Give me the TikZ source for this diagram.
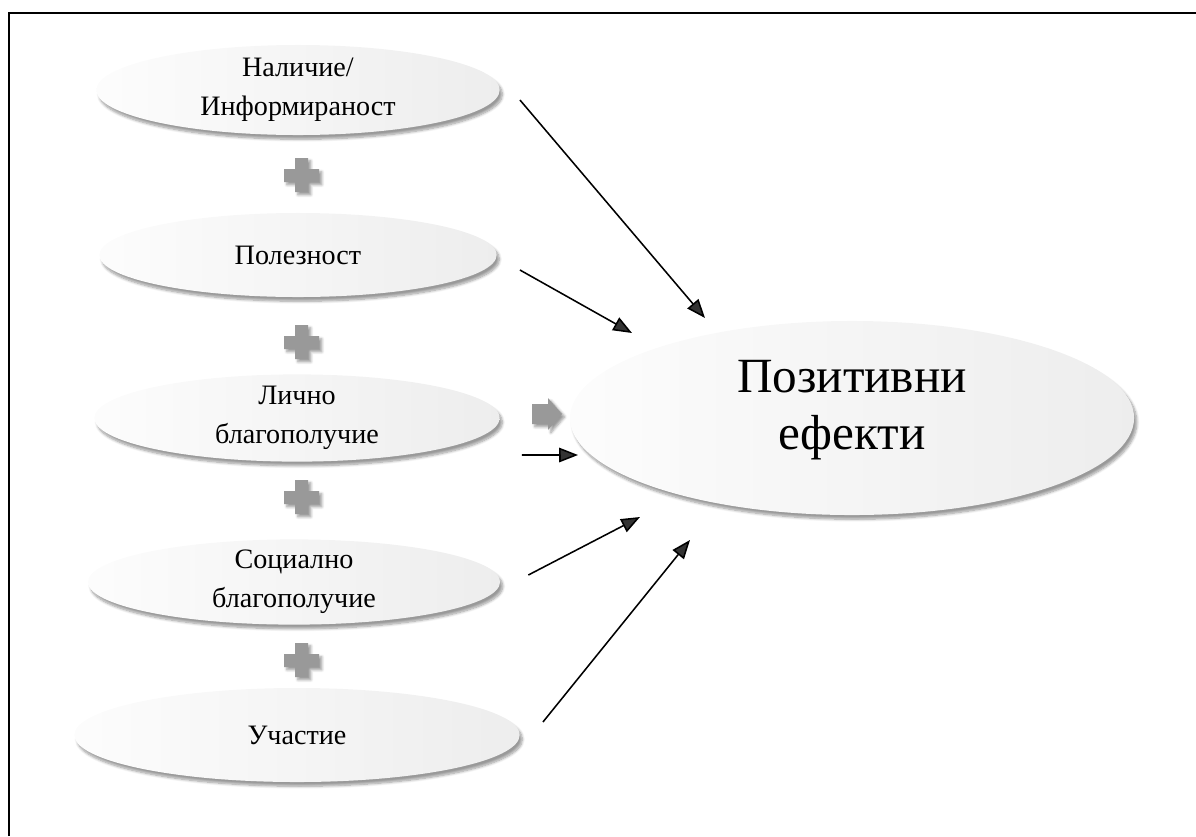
\documentclass[tikz,border=0pt]{standalone}
\usepackage{fontspec}
\setmainfont{Liberation Serif}
\usetikzlibrary{shapes.geometric,arrows.meta,shadows.blur}

\tikzset{
    faktor/.style={ellipse, inner xsep=0pt, inner ysep=-10pt, align=center,
        font=\fontsize{20}{28}\selectfont,
        left color=gray!2, right color=gray!14,
        blur shadow={shadow xshift=2pt, shadow yshift=-3pt, shadow opacity=40, shadow blur steps=8}},
    effekt/.style={faktor, font=\fontsize{35}{41}\selectfont},
    plusgray/.style={fill=black!40,
        blur shadow={shadow xshift=2pt, shadow yshift=-2pt, shadow opacity=40, shadow blur steps=5}},
    pfeil/.style={-{Triangle[length=0.47cm,width=0.36cm]}, line width=1.1pt},
}

\begin{document}
\begin{tikzpicture}[x=0.025cm, y=-0.025cm]
        \useasboundingbox (0,0) rectangle (1196,836);

        % Рамка
        \draw[line width=2pt] (9,836) -- (9,13) -- (1196,13);

        % Эллипсы
        \node[faktor, minimum width=10.08cm, minimum height=2.25cm] (nal) at (298,90)  {Наличие/\\Информираност};
        \node[faktor, minimum width=9.93cm,  minimum height=2.1cm]  (pol) at (298,255) {Полезност};
        \node[faktor, minimum width=10.13cm, minimum height=2.18cm] (lic) at (297,418) {Лично\\благополучие};
        \node[faktor, minimum width=10.3cm,  minimum height=2.13cm] (soc) at (294,582) {Социално\\благополучие};
        \node[faktor, minimum width=11.13cm, minimum height=2.35cm] (uch) at (297,735) {Участие};

        \node[effekt, minimum width=14.1cm, minimum height=4.85cm] (poz) at (852,418)
            {Позитивни\\ефекти\rule[-0.65cm]{0pt}{0pt}};

        % Плюсы
        \foreach \y in {175,342,497,660}
            \fill[plusgray] (295,\y-17) -- (308,\y-17) -- (308,\y-6) -- (319,\y-6) -- (319,\y+7)
                -- (308,\y+7) -- (308,\y+17) -- (295,\y+17) -- (295,\y+7) -- (284,\y+7)
                -- (284,\y-6) -- (295,\y-6) -- cycle;

        % Серая стрелка
        \fill[plusgray] (532,404) -- (548,404) -- (548,398) -- (562,414) -- (548,430)
            -- (548,424) -- (532,424) -- cycle;

        % Концы стрелок
        \coordinate (t1) at (705,318);
        \coordinate (t2) at (632,333);
        \coordinate (t3) at (578,455);
        \coordinate (t4) at (640,517);
        \coordinate (t5) at (690,540);

        % Стрелки
        \draw[pfeil] ([xshift=0.5cm,  yshift=-0.25cm]nal.east)  -- (t1);
        \draw[pfeil] ([xshift=0.575cm,yshift=-0.375cm]pol.east) -- (t2);
        \draw[pfeil] ([xshift=0.55cm, yshift=-0.925cm]lic.east) -- (t3);
        \draw[pfeil] ([xshift=0.7cm,  yshift=0.175cm]soc.east)  -- (t4);
        \draw[pfeil] ([xshift=0.575cm,yshift=0.325cm]uch.east)  -- (t5);
\end{tikzpicture}
\end{document}
